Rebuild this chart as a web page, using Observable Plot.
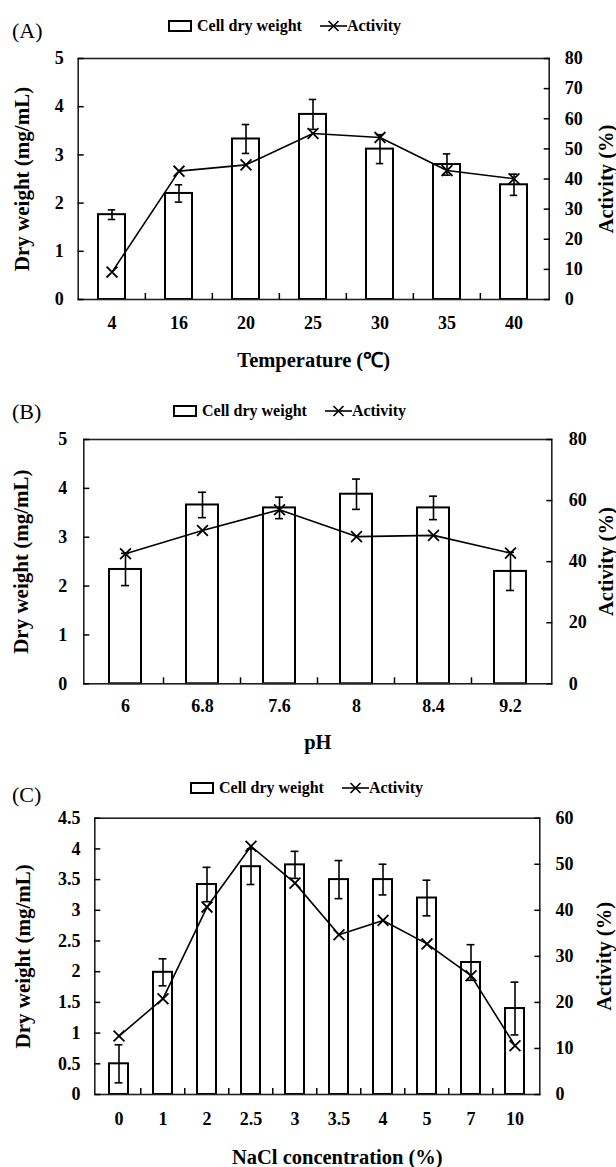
<!DOCTYPE html>
<html>
<head>
<meta charset="utf-8">
<script src="https://cdn.jsdelivr.net/npm/d3@7"></script>
<script src="https://cdn.jsdelivr.net/npm/@observablehq/plot@0.6"></script>
<style>
  body { margin: 0; background: #fff; }
  #root { position: relative; width: 616px; height: 1167px; font-family: "Liberation Serif", "Times New Roman", serif; color: #000; }
  .tag { position: absolute; font-size: 22px; line-height: 22px; }
  .legend { position: absolute; display: flex; align-items: center; font-weight: bold; font-size: 16px; line-height: 20px; white-space: nowrap; }
  .legend svg { display: block; }
  .chart { position: absolute; left: 0; }
</style>
</head>
<body>
<div id="root"></div>
<script>
// ---------- Data: (A) temperature ----------
const tempCategories = ["4", "16", "20", "25", "30", "35", "40"];
const tempDryWeight  = [1.76, 2.20, 3.33, 3.84, 3.12, 2.80, 2.38];
const tempDryError   = [0.10, 0.18, 0.30, 0.31, 0.30, 0.22, 0.22];
const tempActivity   = [9.1, 42.6, 44.7, 55.1, 53.8, 42.8, 40.1];
const tempLeftTicks  = [0, 1, 2, 3, 4, 5];
const tempRightTicks = [0, 10, 20, 30, 40, 50, 60, 70, 80];

// ---------- Data: (B) pH ----------
const phCategories = ["6", "6.8", "7.6", "8", "8.4", "9.2"];
const phDryWeight  = [2.34, 3.66, 3.60, 3.88, 3.60, 2.30];
const phDryError   = [0.33, 0.26, 0.22, 0.31, 0.24, 0.39];
const phActivity   = [42.6, 50.2, 57.0, 48.2, 48.6, 42.8];
const phLeftTicks  = [0, 1, 2, 3, 4, 5];
const phRightTicks = [0, 20, 40, 60, 80];

// ---------- Data: (C) NaCl ----------
const naclCategories = ["0", "1", "2", "2.5", "3", "3.5", "4", "5", "7", "10"];
const naclDryWeight  = [0.50, 1.99, 3.42, 3.71, 3.74, 3.50, 3.50, 3.20, 2.15, 1.40];
const naclDryError   = [0.31, 0.22, 0.28, 0.29, 0.22, 0.31, 0.25, 0.29, 0.29, 0.43];
const naclActivity   = [12.7, 20.8, 40.7, 53.9, 45.9, 34.7, 37.8, 32.7, 25.8, 10.6];
const naclLeftTicks  = [0, 0.5, 1, 1.5, 2, 2.5, 3, 3.5, 4, 4.5];
const naclRightTicks = [0, 10, 20, 30, 40, 50, 60];

const legendLabels = ["Cell dry weight", "Activity"];
const leftLabel = "Dry weight (mg/mL)";
const rightLabel = "Activity (%)";

const FONT = "'Liberation Serif', 'Times New Roman', serif";
const root = document.getElementById("root");

function addTag(text, top) {
  const d = document.createElement("div");
  d.className = "tag";
  d.textContent = text;
  d.style.left = "12px";
  d.style.top = top + "px";
  root.appendChild(d);
}

function addLegend(left, top) {
  const d = document.createElement("div");
  d.className = "legend";
  d.style.left = left + "px";
  d.style.top = top + "px";
  d.innerHTML =
    `<svg width="24" height="12"><rect x="1" y="1" width="22" height="10" fill="#fff" stroke="#000" stroke-width="2"/></svg>` +
    `<span style="margin-left:5px">${legendLabels[0]}</span>` +
    `<svg width="27" height="14" style="margin-left:18px"><line x1="0" y1="7" x2="27" y2="7" stroke="#000" stroke-width="1.6"/><path d="M8.5,2L18.5,12M18.5,2L8.5,12" stroke="#000" stroke-width="1.6" fill="none"/></svg>` +
    `<span>${legendLabels[1]}</span>`;
  root.appendChild(d);
}

function panel(cfg) {
  const {cats, dw, err, act, yMax, leftTicks, leftFmt, actMax, rightTicks, xLabel,
         svgTop, height, ml, mr, mt, frameH, padInner,
         leftGap, rightGap, xTickPad, yLabelX, rLabelX, xLabelDy, xLabelDx} = cfg;
  const data = cats.map((c, i) => ({c, dw: dw[i], err: err[i], act: act[i]}));
  const k = yMax / actMax;
  const W = 616;
  const step = (W - ml - mr) / cats.length;
  const bw = step * (1 - padInner);
  const capW = 8;
  const capInset = (bw - capW) / 2;
  const mb = height - mt - frameH;

  const chart = Plot.plot({
    width: W,
    height,
    marginLeft: ml,
    marginRight: mr,
    marginTop: mt,
    marginBottom: mb,
    style: {fontFamily: FONT, fontSize: "18px", fontWeight: "bold", color: "#000", background: "transparent", overflow: "visible"},
    x: {domain: cats, paddingInner: padInner, paddingOuter: padInner / 2, label: null, axis: null},
    y: {domain: [0, yMax], label: null, axis: null},
    marks: [
      Plot.barY(data, {x: "c", y: "dw", fill: "#fff", stroke: "#000", strokeWidth: 2}),
      Plot.ruleX(data, {x: "c", y1: d => d.dw - d.err, y2: d => d.dw + d.err, stroke: "#000", strokeWidth: 1.6}),
      Plot.tickY(data, {x: "c", y: d => d.dw + d.err, insetLeft: capInset, insetRight: capInset, stroke: "#000", strokeWidth: 1.6}),
      Plot.tickY(data, {x: "c", y: d => d.dw - d.err, insetLeft: capInset, insetRight: capInset, stroke: "#000", strokeWidth: 1.6}),
      Plot.line(data, {x: "c", y: d => d.act * k, stroke: "#000", strokeWidth: 1.6}),
      Plot.dot(data, {x: "c", y: d => d.act * k, symbol: "times", r: 5, stroke: "#000", strokeWidth: 1.8}),
      Plot.frame({stroke: "#222", strokeWidth: 1.6}),
      // left axis labels + inward ticks
      Plot.axisY(leftTicks, {anchor: "left", tickSize: 0, tickPadding: leftGap, tickFormat: leftFmt, label: null, fontSize: 18}),
      Plot.axisY(leftTicks, {anchor: "left", tickSize: 6, dx: 6, tickFormat: () => "", label: null, strokeWidth: 1.5}),
      // right axis (activity) labels + inward ticks
      Plot.axisY(rightTicks.map(v => v * k), {anchor: "right", tickSize: 0, tickPadding: rightGap, tickFormat: v => String(Math.round(v / k)), label: null, fontSize: 18}),
      Plot.axisY(rightTicks.map(v => v * k), {anchor: "right", tickSize: 6, dx: -6, tickFormat: () => "", label: null, strokeWidth: 1.5}),
      // bottom category labels
      Plot.axisX(cats, {anchor: "bottom", tickSize: 0, tickPadding: xTickPad, label: null, fontSize: 18}),
      // ticks between categories, pointing into the frame
      Plot.axisX(cats.slice(1), {anchor: "bottom", tickSize: 6, dx: -step / 2, dy: -6, tickFormat: () => "", label: null, strokeWidth: 1.5}),
      // axis titles
      Plot.text([leftLabel], {text: d => d, frameAnchor: "left", dx: yLabelX - ml, rotate: -90, textAnchor: "middle", lineAnchor: "middle", fontSize: 21, fontWeight: "bold"}),
      Plot.text([rightLabel], {text: d => d, frameAnchor: "right", dx: rLabelX - (W - mr), rotate: -90, textAnchor: "middle", lineAnchor: "middle", fontSize: 20.5, fontWeight: "bold"}),
      Plot.text([xLabel], {text: d => d, frameAnchor: "bottom", dy: xLabelDy, dx: xLabelDx, textAnchor: "middle", lineAnchor: "middle", fontSize: 20.5, fontWeight: "bold"})
    ]
  });
  chart.classList.add("chart");
  chart.style.top = svgTop + "px";
  root.appendChild(chart);
}

const fmtInt = d => String(d);

// (A)
addTag("(A)", 20);
addLegend(168, 16);
panel({
  cats: tempCategories, dw: tempDryWeight, err: tempDryError, act: tempActivity,
  yMax: 5, leftTicks: tempLeftTicks, leftFmt: fmtInt, actMax: 80, rightTicks: tempRightTicks,
  xLabel: "Temperature (\u2103)",
  svgTop: 40, height: 340, ml: 77.7, mr: 67.3, mt: 18, frameH: 241, padInner: 0.59,
  leftGap: 14.4, rightGap: 15.6, xTickPad: 17, yLabelX: 21.7, rLabelX: 606, xLabelDy: 61, xLabelDx: 0
});

// (B)
addTag("(B)", 401);
addLegend(173, 401);
panel({
  cats: phCategories, dw: phDryWeight, err: phDryError, act: phActivity,
  yMax: 5, leftTicks: phLeftTicks, leftFmt: fmtInt, actMax: 80, rightTicks: phRightTicks,
  xLabel: "pH",
  svgTop: 420, height: 345, ml: 83.3, mr: 64.7, mt: 19, frameH: 244.3, padInner: 0.59,
  leftGap: 16.6, rightGap: 17, xTickPad: 15, yLabelX: 20.5, rLabelX: 606, xLabelDy: 59, xLabelDx: 0
});

// (C)
addTag("(C)", 784);
addLegend(190, 778);
panel({
  cats: naclCategories, dw: naclDryWeight, err: naclDryError, act: naclActivity,
  yMax: 4.5, leftTicks: naclLeftTicks, leftFmt: fmtInt, actMax: 60, rightTicks: naclRightTicks,
  xLabel: "NaCl concentration (%)",
  svgTop: 800, height: 367, ml: 94.3, mr: 76.7, mt: 17.7, frameH: 276.3, padInner: 0.57,
  leftGap: 14.3, rightGap: 15.7, xTickPad: 18, yLabelX: 22.5, rLabelX: 604, xLabelDy: 62.7, xLabelDx: 20
});
</script>
</body>
</html>
